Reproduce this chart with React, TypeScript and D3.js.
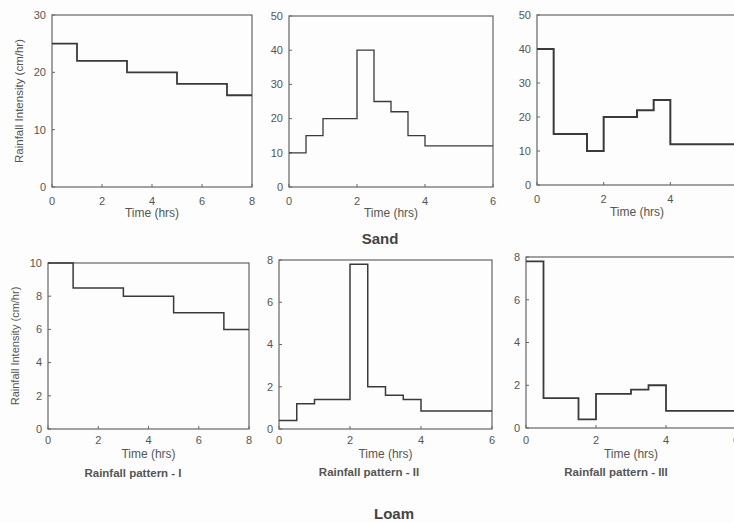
import React from "react";
import * as d3 from "d3";

// Time breakpoints (hrs) for each rainfall pattern
const patternITimes = [0, 1, 3, 5, 7, 8];
const patternIITimes = [0, 0.5, 1, 2, 2.5, 3, 3.5, 4, 6];
const patternIIITimes = [0, 0.5, 1.5, 2, 3, 3.5, 4, 6];

// Rainfall intensity (cm/hr) for each interval
const sandI = [25, 22, 20, 18, 16];
const sandII = [10, 15, 20, 40, 25, 22, 15, 12];
const sandIII = [40, 15, 10, 20, 22, 25, 12];
const loamI = [10, 8.5, 8, 7, 6];
const loamII = [0.4, 1.2, 1.4, 7.8, 2.0, 1.6, 1.4, 0.85];
const loamIII = [7.8, 1.4, 0.4, 1.6, 1.8, 2.0, 0.8];

// Axis ticks
const xTicksI = [0, 2, 4, 6, 8];
const xTicksII = [0, 2, 4, 6];
const yTicksSandI = [0, 10, 20, 30];
const yTicksSandOther = [0, 10, 20, 30, 40, 50];
const yTicksLoamI = [0, 2, 4, 6, 8, 10];
const yTicksLoamOther = [0, 2, 4, 6, 8];

const patternTitles = ["Rainfall pattern - I", "Rainfall pattern - II", "Rainfall pattern - III"];
const soilNames = ["Sand", "Loam"];
const yTitle = "Rainfall Intensity (cm/hr)";
const xTitle = "Time (hrs)";

const FONT = "'Liberation Sans', Arial, sans-serif";
const TEXT = "#555";
const FRAME = "#666";
const LINE = "#3a3a3a";

type PanelProps = {
  x0: number; x1: number; y0: number; y1: number;
  times: number[]; values: number[];
  xMax: number; yMax: number;
  xTicks: number[]; yTicks: number[];
  lineWidth: number;
  yTitleX?: number; yTitleSize?: number;
  title?: string; titleX?: number;
  tickDy: number; xTitleDy: number; titleDy?: number;
};

function Panel(p: PanelProps) {
  const x = d3.scaleLinear().domain([0, p.xMax]).range([p.x0, p.x1]);
  const y = d3.scaleLinear().domain([0, p.yMax]).range([p.y1, p.y0]);
  const pts: [number, number][] = p.times.map((t, i) => [t, p.values[Math.min(i, p.values.length - 1)]]);
  const line = d3.line<[number, number]>()
    .x((d) => x(d[0]))
    .y((d) => y(d[1]))
    .curve(d3.curveStepAfter);
  const cx = (p.x0 + p.x1) / 2;
  return (
    <g>
      <rect x={p.x0} y={p.y0} width={p.x1 - p.x0} height={p.y1 - p.y0}
        fill="none" stroke={FRAME} strokeWidth={1.2} />
      {p.yTicks.map((t) => (
        <g key={"y" + t}>
          <line x1={p.x0} x2={p.x0 + 3} y1={y(t)} y2={y(t)} stroke={FRAME} />
          <text x={p.x0 - 6} y={y(t)} dy="0.35em" textAnchor="end"
            fontSize={11} fill={TEXT} fontFamily={FONT}>{t}</text>
        </g>
      ))}
      {p.xTicks.map((t) => (
        <g key={"x" + t}>
          <line x1={x(t)} x2={x(t)} y1={p.y1} y2={p.y1 - 3} stroke={FRAME} />
          <text x={x(t)} y={p.y1 + p.tickDy} textAnchor="middle"
            fontSize={11} fill={TEXT} fontFamily={FONT}>{t}</text>
        </g>
      ))}
      <path d={line(pts) || ""} fill="none" stroke={LINE} strokeWidth={p.lineWidth} />
      <text x={cx} y={p.y1 + p.xTitleDy} textAnchor="middle"
        fontSize={12} fill={TEXT} fontFamily={FONT}>{xTitle}</text>
      {p.yTitleX !== undefined && (
        <text transform={`translate(${p.yTitleX},${(p.y0 + p.y1) / 2}) rotate(-90)`}
          textAnchor="middle" dy="0.35em" fontSize={p.yTitleSize || 11} fill={TEXT} fontFamily={FONT}>{yTitle}</text>
      )}
      {p.title && (
        <text x={p.titleX} y={p.y1 + (p.titleDy || 0)} textAnchor="middle"
          fontSize={11.5} fontWeight="bold" fill={TEXT} fontFamily={FONT}>{p.title}</text>
      )}
    </g>
  );
}

export default function App() {
  return (
    <svg width={734} height={523} style={{ position: "absolute", left: 0, top: 0, background: "#fff" }}>
      <rect width={734} height={523} fill="#fdfdfd" />
      {/* Sand row */}
      <Panel x0={52} x1={252} y0={15} y1={187} times={patternITimes} values={sandI}
        xMax={8} yMax={30} xTicks={xTicksI} yTicks={yTicksSandI} lineWidth={1.8}
        yTitleX={19} yTitleSize={11.5} tickDy={18} xTitleDy={30} />
      <Panel x0={289} x1={493} y0={16} y1={187} times={patternIITimes} values={sandII}
        xMax={6} yMax={50} xTicks={xTicksII} yTicks={yTicksSandOther} lineWidth={1.3}
        tickDy={18} xTitleDy={30} />
      <Panel x0={537} x1={737} y0={15} y1={185} times={patternIIITimes} values={sandIII}
        xMax={6} yMax={50} xTicks={xTicksII} yTicks={yTicksSandOther} lineWidth={2}
        tickDy={18} xTitleDy={31} />
      <text x={380} y={244} textAnchor="middle" fontSize={15} fontWeight="bold"
        fill="#444" fontFamily={FONT}>{soilNames[0]}</text>
      {/* Loam row */}
      <Panel x0={48} x1={249} y0={263} y1={429} times={patternITimes} values={loamI}
        xMax={8} yMax={10} xTicks={xTicksI} yTicks={yTicksLoamI} lineWidth={1.5}
        yTitleX={15} yTitleSize={11} tickDy={15} xTitleDy={29} title={patternTitles[0]} titleX={133} titleDy={48} />
      <Panel x0={279} x1={492} y0={260} y1={429} times={patternIITimes} values={loamII}
        xMax={6} yMax={8} xTicks={xTicksII} yTicks={yTicksLoamOther} lineWidth={1.5}
        tickDy={15} xTitleDy={29} title={patternTitles[1]} titleX={369} titleDy={47} />
      <Panel x0={526} x1={736} y0={257} y1={428} times={patternIIITimes} values={loamIII}
        xMax={6} yMax={8} xTicks={xTicksII} yTicks={yTicksLoamOther} lineWidth={1.8}
        tickDy={16} xTitleDy={30} title={patternTitles[2]} titleX={616} titleDy={48} />
      <text x={394} y={519} textAnchor="middle" fontSize={15} fontWeight="bold"
        fill="#444" fontFamily={FONT}>{soilNames[1]}</text>
    </svg>
  );
}
